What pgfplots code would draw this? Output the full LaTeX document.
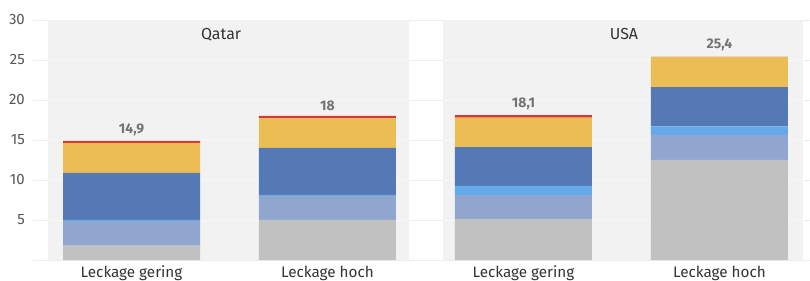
\documentclass[border=0pt]{standalone}
\usepackage{fontspec}
\setmainfont{Fira Sans}
\usepackage{pgfplots}
\pgfplotsset{compat=1.18}
\usepackage{pgfplotstable}
\usetikzlibrary{calc}
\definecolor{cgrey}{HTML}{C1C1C1}
\definecolor{cgb}{HTML}{91A6CF}
\definecolor{clb}{HTML}{64AAEA}
\definecolor{cdb}{HTML}{5479B5}
\definecolor{cyel}{HTML}{EDBD55}
\definecolor{cred}{HTML}{D9382E}
\definecolor{cpanel}{HTML}{F2F2F2}
\definecolor{cgrid}{HTML}{ECECEC}
\definecolor{cgridp}{HTML}{F8F8F8}
\definecolor{ctxt}{HTML}{333333}
\definecolor{ctick}{HTML}{555555}
\definecolor{cval}{HTML}{737373}
\pgfplotstableread{
x grey gb lb db yel red lab
0 1.8 3.05 0.15 5.9 3.7 0.3 {14,9}
1 5.0 3.0 0.15 5.85 3.7 0.3 {18}
2 5.1 3.0 1.15 4.85 3.7 0.3 {18,1}
3 12.5 3.1 1.1 4.9 3.8 0.002 {25,4}
}\data
\pgfplotsset{base/.style={
  scale only axis,
  width=777bp, height=240bp,
  xmin=-0.5026, xmax=3.462,
  ymin=0, ymax=30,
  clip=false,
  axis line style={draw=none},
  major tick length=0pt,
}}
\begin{document}
\begin{tikzpicture}
\begin{axis}[
  base,
  name=ax,
  xtick={0,1,2,3},
  xticklabels={Leckage gering, Leckage hoch, Leckage gering, Leckage hoch},
  ytick={5,10,15,20,25,30},
  /pgf/number format/assume math mode=true,
  xticklabel style={font=\fontsize{15.3}{17}\selectfont, text=ctxt, anchor=base, yshift=-17bp, inner sep=0pt},
  yticklabel style={font=\fontsize{15}{17}\selectfont, text=ctick, anchor=east, xshift=-8bp, inner sep=0pt},
]
\draw[cgrid, line width=0.8bp] (axis cs:-0.5026,0) -- (axis cs:3.462,0);
\draw[cgrid, line width=0.8bp] (axis cs:-0.5026,5) -- (axis cs:3.462,5);
\draw[cgrid, line width=0.8bp] (axis cs:-0.5026,10) -- (axis cs:3.462,10);
\draw[cgrid, line width=0.8bp] (axis cs:-0.5026,15) -- (axis cs:3.462,15);
\draw[cgrid, line width=0.8bp] (axis cs:-0.5026,20) -- (axis cs:3.462,20);
\draw[cgrid, line width=0.8bp] (axis cs:-0.5026,25) -- (axis cs:3.462,25);
\draw[cgrid, line width=0.8bp] (axis cs:-0.5026,30) -- (axis cs:3.462,30);
\end{axis}
\begin{axis}[base, xtick=\empty, ytick=\empty]
\fill[cpanel] (axis cs:-0.426,0) rectangle (axis cs:1.416,30);
\fill[cpanel] (axis cs:1.589,0) rectangle (axis cs:3.426,30);
\end{axis}
\begin{axis}[base, xtick=\empty, ytick=\empty]
\draw[cgridp, line width=0.8bp] (axis cs:-0.426,5) -- (axis cs:1.416,5);
\draw[cgridp, line width=0.8bp] (axis cs:-0.426,10) -- (axis cs:1.416,10);
\draw[cgridp, line width=0.8bp] (axis cs:-0.426,15) -- (axis cs:1.416,15);
\draw[cgridp, line width=0.8bp] (axis cs:-0.426,20) -- (axis cs:1.416,20);
\draw[cgridp, line width=0.8bp] (axis cs:-0.426,25) -- (axis cs:1.416,25);
\draw[cgridp, line width=0.8bp] (axis cs:1.589,5) -- (axis cs:3.426,5);
\draw[cgridp, line width=0.8bp] (axis cs:1.589,10) -- (axis cs:3.426,10);
\draw[cgridp, line width=0.8bp] (axis cs:1.589,15) -- (axis cs:3.426,15);
\draw[cgridp, line width=0.8bp] (axis cs:1.589,20) -- (axis cs:3.426,20);
\draw[cgridp, line width=0.8bp] (axis cs:1.589,25) -- (axis cs:3.426,25);
\end{axis}
\begin{axis}[base, xtick=\empty, ytick=\empty,
  ybar stacked,
  bar width=137bp,
]
\addplot[fill=cgrey, draw=none] table[x=x, y=grey] {\data};
\addplot[fill=cgb, draw=none] table[x=x, y=gb] {\data};
\addplot[fill=clb, draw=none] table[x=x, y=lb] {\data};
\addplot[fill=cdb, draw=none] table[x=x, y=db] {\data};
\addplot[fill=cyel, draw=none] table[x=x, y=yel] {\data};
\addplot[fill=cred, draw=none,
  nodes near coords,
  point meta=explicit symbolic,
  every node near coord/.append style={font=\bfseries\fontsize{14}{16}\selectfont, text=cval, anchor=south, yshift=6bp, inner sep=0pt}
] table[x=x, y=red, meta=lab] {\data};
\node[font=\fontsize{16}{19}\selectfont, text=ctxt] at (axis cs:0.457,28.2) {Qatar};
\node[font=\fontsize{16}{19}\selectfont, text=ctxt] at (axis cs:2.513,28.2) {USA};
\end{axis}
\pgfresetboundingbox
\useasboundingbox ($(ax.south west)+(-33bp,-21bp)$) rectangle ($(ax.north east)+(0bp,20bp)$);
\end{tikzpicture}
\end{document}
